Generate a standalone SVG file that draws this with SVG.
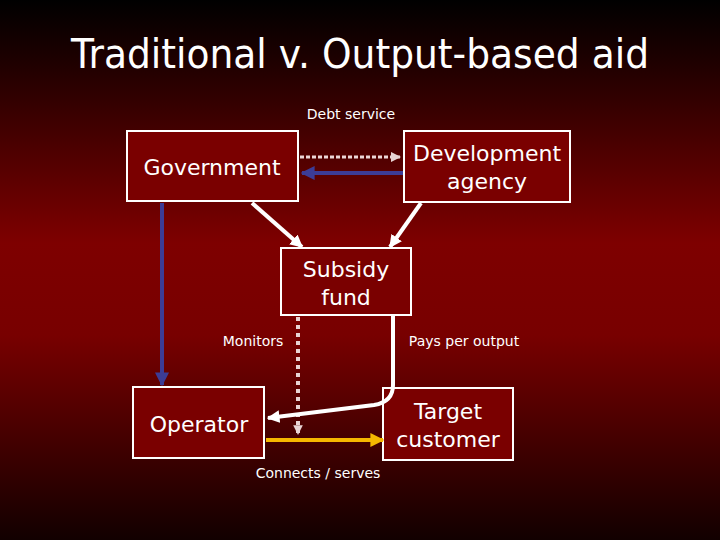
<svg xmlns="http://www.w3.org/2000/svg" width="720" height="540" viewBox="0 0 720 540">
<defs>
<linearGradient id="bg" x1="0" y1="0" x2="0" y2="1">
<stop offset="0" stop-color="#000000"/>
<stop offset="0.12" stop-color="#200000"/>
<stop offset="0.45" stop-color="#7e0000"/>
<stop offset="0.62" stop-color="#780000"/>
<stop offset="1" stop-color="#120000"/>
</linearGradient>
<marker id="aw" viewBox="0 0 10 10" refX="9" refY="5" markerWidth="3.2" markerHeight="3.2" orient="auto" markerUnits="strokeWidth"><path d="M0,0 L10,5 L0,10 z" fill="#ffffff"/></marker>
<marker id="ab" viewBox="0 0 10 10" refX="9" refY="5" markerWidth="3.5" markerHeight="3.5" orient="auto" markerUnits="strokeWidth"><path d="M0,0 L10,5 L0,10 z" fill="#3c3c96"/></marker>
<marker id="ap" viewBox="0 0 10 10" refX="9" refY="5" markerWidth="3.5" markerHeight="3.5" orient="auto" markerUnits="strokeWidth"><path d="M0,0 L10,5 L0,10 z" fill="#e8d4d4"/></marker>
<marker id="ap2" viewBox="0 0 10 10" refX="9" refY="5" markerWidth="2.4" markerHeight="2.4" orient="auto" markerUnits="strokeWidth"><path d="M0,0 L10,5 L0,10 z" fill="#e8d4d4"/></marker>
<marker id="ay" viewBox="0 0 10 10" refX="9" refY="5" markerWidth="3.5" markerHeight="3.5" orient="auto" markerUnits="strokeWidth"><path d="M0,0 L10,5 L0,10 z" fill="#f5b800"/></marker>
</defs>
<style>
.box{fill:#7a0000;stroke:#ffffff;stroke-width:2}
.t{font-family:"Comic Sans MS","DejaVu Sans","Liberation Sans",sans-serif;fill:#ffffff;text-anchor:middle}
.nt{font-size:22px}
.lb{font-size:14px}
.c{fill:none}
</style>
<rect x="0" y="0" width="720" height="540" fill="url(#bg)"/>
<text class="t" x="360" y="68" font-size="40" textLength="578" lengthAdjust="spacingAndGlyphs">Traditional v. Output-based aid</text>
<g id="government"><rect class="box" x="127" y="131" width="171" height="70"/><text class="t nt" x="212" y="175">Government</text></g>
<g id="development-agency"><rect class="box" x="404" y="131" width="166" height="71"/><text class="t nt" x="487" y="161">Development</text><text class="t nt" x="487" y="189">agency</text></g>
<g id="subsidy-fund"><rect class="box" x="281" y="248" width="130" height="67"/><text class="t nt" x="346" y="277">Subsidy</text><text class="t nt" x="346" y="305">fund</text></g>
<g id="operator"><rect class="box" x="133" y="387" width="131" height="71"/><text class="t nt" x="199" y="432">Operator</text></g>
<g id="target-customer"><rect class="box" x="383" y="388" width="130" height="72"/><text class="t nt" x="448" y="419">Target</text><text class="t nt" x="448" y="447">customer</text></g>
<g id="connectors">
<line class="c" x1="300" y1="157" x2="400" y2="157" stroke="#ecd8d8" stroke-width="3" stroke-dasharray="4 2" marker-end="url(#ap)"/>
<line class="c" x1="403" y1="173" x2="302" y2="173" stroke="#3c3c96" stroke-width="4" marker-end="url(#ab)"/>
<line class="c" x1="252" y1="203" x2="302" y2="247" stroke="#ffffff" stroke-width="4" marker-end="url(#aw)"/>
<line class="c" x1="421" y1="203" x2="390" y2="247" stroke="#ffffff" stroke-width="4" marker-end="url(#aw)"/>
<line class="c" x1="162" y1="203" x2="162" y2="385" stroke="#3c3c96" stroke-width="4" marker-end="url(#ab)"/>
<line class="c" x1="298" y1="317" x2="298" y2="434" stroke="#e8d4d4" stroke-width="4" stroke-dasharray="4 4" marker-end="url(#ap2)"/>
<path class="c" d="M393,316 L393,385 Q393,402 374,405 L268,418" stroke="#ffffff" stroke-width="4" marker-end="url(#aw)"/>
<line class="c" x1="266" y1="440" x2="383" y2="440" stroke="#f5b800" stroke-width="4" marker-end="url(#ay)"/>
<text class="t lb" x="351" y="119">Debt service</text>
<text class="t lb" x="253" y="346">Monitors</text>
<text class="t lb" x="464" y="346">Pays per output</text>
<text class="t lb" x="318" y="478">Connects / serves</text>
</g>
</svg>
